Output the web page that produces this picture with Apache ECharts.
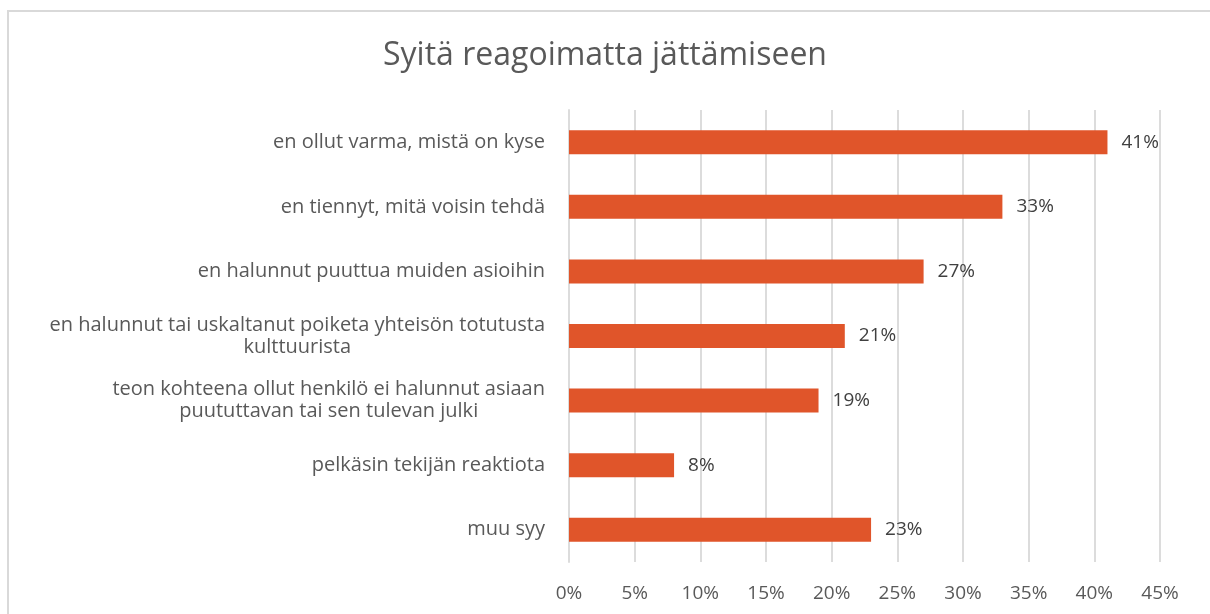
<!DOCTYPE html>
<html>
<head>
<meta charset="utf-8">
<script src="https://cdn.jsdelivr.net/npm/echarts@6/dist/echarts.min.js"></script>
<style>
  html, body { margin: 0; padding: 0; background: #fff; }
  #chart { width: 1210px; height: 614px; }
</style>
</head>
<body>
<div id="chart"></div>
<script>
// reasons, top to bottom
var categories = [
    'en ollut varma, mistä on kyse',
    'en tiennyt, mitä voisin tehdä',
    'en halunnut puuttua muiden asioihin',
    'en halunnut tai uskaltanut poiketa yhteisön totutusta\nkulttuurista',
    'teon kohteena ollut henkilö ei halunnut asiaan\npuututtavan tai sen tulevan julki',
    'pelkäsin tekijän reaktiota',
    'muu syy'
]
var shares = [41, 33, 27, 21, 19, 8, 23]
var ticks = ['0%', '5%', '10%', '15%', '20%', '25%', '30%', '35%', '40%', '45%']

var font = '"Open Sans", sans-serif'
var myChart = echarts.init(document.getElementById('chart'))

var option = {
    backgroundColor: '#fff',
    animation: false,
    title: {
        text: 'Syitä reagoimatta jättämiseen',
        left: 'center',
        top: 35,
        textStyle: { fontFamily: font, fontSize: 32, fontWeight: 'normal', color: '#595959' }
    },
    graphic: [{
        type: 'rect',
        shape: { x: 8, y: 11, width: 1240, height: 640 },
        style: { fill: 'none', stroke: '#d9d9d9', lineWidth: 2 }
    }],
    grid: { left: 569, right: 50, top: 110, bottom: 52 },
    xAxis: {
        type: 'value',
        min: 0,
        max: 45,
        interval: 5,
        axisLine: { show: false },
        axisTick: { show: false },
        splitLine: { lineStyle: { color: '#dcdcdc', width: 2 } },
        axisLabel: {
            margin: 22,
            fontFamily: font,
            fontSize: 19,
            color: '#595959',
            formatter: function (v) { return ticks[Math.round(v / 5)] }
        }
    },
    yAxis: {
        type: 'category',
        inverse: true,
        data: categories,
        axisLine: { lineStyle: { color: '#dcdcdc', width: 2 } },
        axisTick: { show: false },
        axisLabel: {
            margin: 24,
            align: 'right',
            // wrapped labels: lines centred under each other
            formatter: function (v) {
                return v.split('\n').map(function (s) { return '{c|' + s + '}' }).join('\n')
            },
            rich: {
                c: {
                    align: 'center',
                    fontFamily: font,
                    fontSize: 20,
                    lineHeight: 22,
                    color: '#595959'
                }
            }
        }
    },
    series: [{
        type: 'bar',
        data: shares,
        barWidth: 24,
        itemStyle: { color: '#e0552a' },
        label: {
            show: true,
            position: 'right',
            distance: 14,
            fontFamily: font,
            fontSize: 19,
            color: '#404040',
            formatter: '{c}%'
        }
    }]
}
myChart.setOption(option)
</script>
</body>
</html>
